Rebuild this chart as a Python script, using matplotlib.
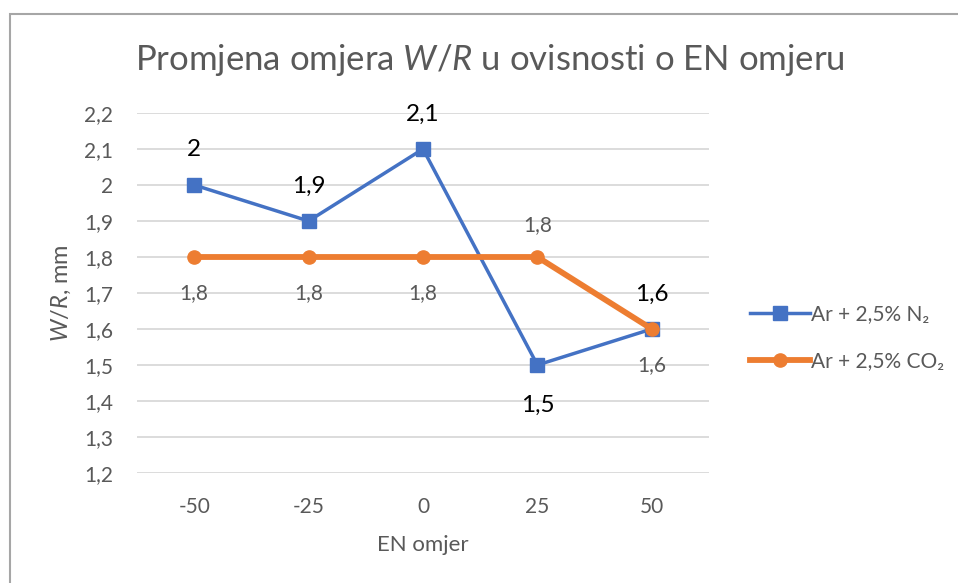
import numpy as np
import matplotlib
matplotlib.use('Agg')
import matplotlib.pyplot as plt
from matplotlib.patches import Rectangle

plt.rcParams['font.family'] = ['Lato', 'DejaVu Sans']
plt.rcParams['mathtext.fontset'] = 'custom'
plt.rcParams['mathtext.rm'] = 'Lato'
plt.rcParams['mathtext.it'] = 'Lato:italic'

# podaci
en_omjer = ['-50', '-25', '0', '25', '50']
wr_n2 = [2.0, 1.9, 2.1, 1.5, 1.6]
wr_co2 = [1.8, 1.8, 1.8, 1.8, 1.6]
yticks = [1.2, 1.3, 1.4, 1.5, 1.6, 1.7, 1.8, 1.9, 2.0, 2.1, 2.2]

# položaj oznaka vrijednosti (1 = iznad, -1 = ispod)
pos_n2 = [1, 1, 1, -1, 1]
pos_co2 = [-1, -1, -1, 1, -1]

blue = '#4472C4'
orange = '#ED7D31'
grey = '#595959'


def fmt(v):
    return ('%g' % v).replace('.', ',')


fig = plt.figure(figsize=(9.58, 5.83), dpi=100)
ax = fig.add_axes([137 / 958, 1 - 473 / 583, 572 / 958, 360 / 583])

# okvir grafikona
fig.patches.append(Rectangle((9.5 / 958, -0.1), 1.2, 1 - 14.5 / 583 + 0.1,
                             transform=fig.transFigure, fill=False,
                             edgecolor='#A6A6A6', linewidth=1.5))

x = np.arange(len(en_omjer))
ax.plot(x, wr_n2, color=blue, linewidth=2.5, marker='s', markersize=10.5,
        label='Ar + 2,5% N₂', zorder=3)
ax.plot(x, wr_co2, color=orange, linewidth=4.2, marker='o', markersize=9.5,
        label='Ar + 2,5% CO₂', zorder=4)

for xi, v, p in zip(x, wr_n2, pos_n2):
    ax.annotate(fmt(v), (xi, v), xytext=(0, 35 if p > 0 else -40),
                textcoords='offset pixels', ha='center', va='center',
                fontsize=17.5, color='black')
for xi, v, p in zip(x, wr_co2, pos_co2):
    ax.annotate(fmt(v), (xi, v), xytext=(0, 32 if p > 0 else -36),
                textcoords='offset pixels', ha='center', va='center',
                fontsize=15, color=grey)

ax.set_xlim(-0.5, len(en_omjer) - 0.5)
ax.set_ylim(1.2, 2.2)
ax.set_xticks(x)
ax.set_xticklabels(en_omjer)
ax.set_yticks(yticks)
ax.set_yticklabels([fmt(t) for t in yticks])
ax.tick_params(length=0, labelsize=15, labelcolor=grey)
ax.tick_params(axis='x', pad=17)
ax.tick_params(axis='y', pad=17)
ax.grid(axis='y', color='#D9D9D9', linewidth=1.3)
ax.set_axisbelow(True)
for s in ax.spines.values():
    s.set_visible(False)

fig.text(490 / 958, 1 - 60 / 583, 'Promjena omjera $\\mathit{W/R}$ u ovisnosti o EN omjeru',
         ha='center', va='center', fontsize=25, color=grey)
fig.text(423 / 958, 1 - 545 / 583, 'EN omjer', ha='center', va='center',
         fontsize=16, color=grey)
fig.text(61 / 958, 1 - 293 / 583, '$\\mathit{W/R}$, mm', ha='center', va='center',
         rotation=90, fontsize=17, color=grey)

leg = ax.legend(loc='center left', bbox_to_anchor=(750 / 958, 1 - 338 / 583),
                bbox_transform=fig.transFigure, frameon=False, fontsize=15,
                labelspacing=1.3, handlelength=2.9, handletextpad=0.05,
                borderpad=0, borderaxespad=0)
for t in leg.get_texts():
    t.set_color(grey)

fig.savefig('out.png', dpi=100, facecolor='white')
